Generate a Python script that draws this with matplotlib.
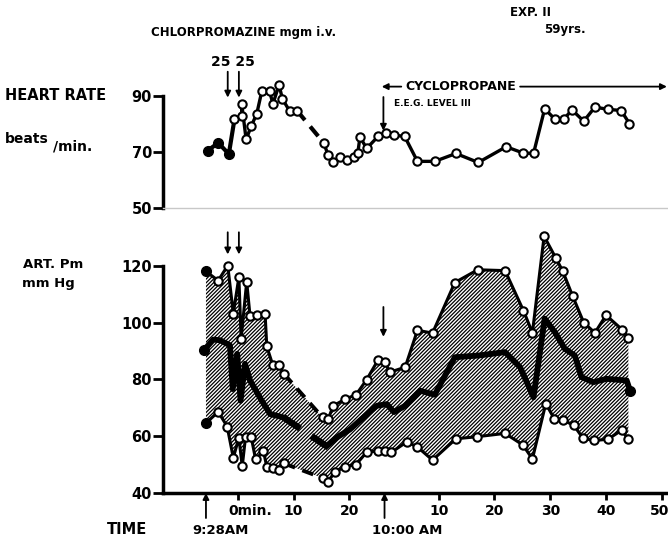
import matplotlib.pyplot as plt
from matplotlib.transforms import ScaledTranslation

plt.rcParams.update({'font.family': 'DejaVu Sans', 'font.weight': 'bold',
                     'hatch.linewidth': 0.9})

# time in minutes from the "0 min." mark (9:34 AM)
# heart rate, beats/min
hr_pre_t = [-5.4, -3.5, -1.6]
hr_pre = [70.4, 73.2, 69.2]
hr_a_t = [-0.6, 0.7, 0.7, 1.5, 2.4, 3.4, 4.3, 5.7, 6.3, 7.4, 8.0, 9.3, 10.6]
hr_a = [81.5, 82.9, 87.1, 74.4, 79.1, 83.5, 91.5, 91.5, 87.1, 93.8, 88.8, 84.5, 84.7]
hr_b_t = [15.4, 16.2, 17.1, 18.3, 19.6, 20.8, 21.5, 21.9, 23.1, 25.2, 26.6, 28.0, 29.9,
          32.2, 35.3, 39.1, 43.1, 48.1, 51.1, 53.0, 55.0, 56.9, 58.5, 59.9, 62.0, 64.0,
          66.4, 68.7, 70.2]
hr_b = [73.2, 68.8, 66.2, 68.0, 67.1, 68.0, 69.4, 75.3, 71.2, 75.6, 76.7, 75.9, 75.5,
        66.6, 66.6, 69.4, 66.2, 71.8, 69.6, 69.4, 85.3, 81.5, 81.8, 84.9, 80.9, 85.9,
        85.1, 84.7, 80.0]

# arterial pressure, mm Hg: upper, mean, lower
up_a_t = [-5.7, -3.5, -1.8, -0.8, 0.2, 0.6, 1.6, 2.2, 3.5, 4.9, 5.2, 6.3, 7.4, 8.3]
up_a = [118.0, 114.8, 120.1, 103.2, 116.0, 94.3, 114.4, 102.3, 102.6, 103.0, 91.6,
        84.9, 84.9, 81.9]
up_b_t = [15.2, 16.2, 17.1, 19.3, 21.2, 23.1, 25.1, 26.4, 27.2, 30.0, 32.2, 34.9, 38.9,
          43.0, 47.9, 51.2, 52.8, 54.9, 57.0, 58.2, 60.0, 62.0, 64.0, 66.0, 68.9, 70.0]
up_b = [66.6, 66.0, 70.7, 73.1, 74.6, 79.9, 86.7, 86.3, 82.5, 84.3, 97.3, 96.3, 114.1,
        118.6, 118.3, 104.2, 96.4, 130.4, 122.7, 118.3, 109.4, 100.0, 96.4, 102.6, 97.5,
        94.6]

lo_a_t = [-5.7, -3.5, -1.9, -0.8, 0.2, 0.8, 1.4, 2.4, 3.2, 4.6, 5.2, 6.4, 7.4, 8.3]
lo_a = [64.6, 68.6, 63.4, 52.4, 59.5, 49.4, 59.8, 59.8, 51.8, 54.8, 49.2, 48.8, 48.2, 50.4]
lo_b_t = [15.2, 16.1, 17.4, 19.2, 21.2, 23.1, 25.2, 26.3, 27.5, 30.3, 32.2, 34.9, 39.1,
          42.8, 47.9, 51.1, 52.8, 55.2, 56.7, 58.2, 60.2, 61.9, 63.9, 66.3, 68.8, 70.0]
lo_b = [45.3, 43.8, 47.4, 49.2, 50.0, 54.4, 54.8, 54.8, 54.3, 58.0, 56.2, 51.6, 59.1,
        59.8, 61.0, 56.9, 52.0, 71.5, 66.2, 65.7, 63.9, 59.2, 58.5, 58.9, 62.1, 58.9]

mn_a_t = [-6.0, -4.4, -3.2, -1.4, -0.9, -0.1, 0.5, 1.3, 2.2, 4.3, 5.8, 8.2]
mn_a = [90.4, 94.0, 93.8, 92.0, 76.6, 89.0, 72.5, 85.5, 79.6, 72.5, 67.8, 66.6]
mn_b_t = [15.9, 17.7, 20.1, 22.5, 24.9, 26.7, 28.0, 30.0, 32.7, 35.3, 38.9, 43.1, 47.9,
          50.6, 53.0, 55.0, 56.8, 58.6, 60.4, 61.6, 63.7, 66.1, 69.7, 70.3]
mn_b = [56.5, 59.5, 62.4, 66.6, 70.7, 71.3, 68.5, 70.7, 76.0, 74.6, 87.8, 88.4, 89.6,
        84.3, 73.7, 101.4, 96.7, 90.8, 88.4, 80.8, 79.0, 80.2, 79.6, 76.0]

tick_pos = [0, 10, 20, 36, 46, 56, 66, 76]
tick_lab = ['0min.', '10', '20', '10', '20', '30', '40', '50']
clock_t = [-5.7, 26.3]
dose_t = [-1.8, 0.2]
cyclo_t = 26.1

W, H = 668, 541
fig = plt.figure(figsize=(W / 100, H / 100), dpi=100)


def px(x, y):
    return x / W, 1 - y / H


def shift(label, dx):
    label.set_transform(label.get_transform() + ScaledTranslation(dx / 100, 0, fig.dpi_scale_trans))


ax1 = fig.add_axes([0.244, 0.6155, 0.756, 0.2805])
ax2 = fig.add_axes([0.244, 0.0887, 0.756, 0.4935])
for ax in (ax1, ax2):
    ax.set_xlim(-13.4, 77.1)
    ax.spines['top'].set_visible(False)
    ax.spines['right'].set_visible(False)
    ax.spines['left'].set_linewidth(2.5)
    ax.tick_params(axis='y', length=7, width=2, labelsize=10.5, pad=1)
    ax.patch.set_alpha(0)

# heart-rate panel
ax1.set_ylim(50, 104)
ax1.spines['left'].set_bounds(50, 90)
ax1.spines['bottom'].set_color('#c8c8c8')
ax1.spines['bottom'].set_linewidth(1)
ax1.set_yticks([50, 70, 90])
ax1.set_xticks([])

lw = 2.4
ax1.plot(hr_pre_t + hr_a_t[:1], hr_pre + hr_a[:1], color='k', lw=lw + 0.6, zorder=2)
ax1.plot(hr_a_t, hr_a, color='k', lw=lw, zorder=2)
ax1.plot([hr_a_t[-1], hr_b_t[0]], [hr_a[-1], hr_b[0]], color='k', lw=lw + 0.6,
         dashes=(3, 2), zorder=2)
ax1.plot(hr_b_t, hr_b, color='k', lw=lw, zorder=2)
ax1.plot(hr_pre_t, hr_pre, 'o', color='k', ms=7, zorder=3)
ax1.plot(hr_a_t + hr_b_t, hr_a + hr_b, 'o', mfc='white', mec='k', ms=6, mew=1.5, zorder=3)

arr = dict(arrowstyle='-|>', color='k', lw=1.3, mutation_scale=9, shrinkA=0, shrinkB=0)
for t in dose_t:
    ax1.annotate('', xy=(t, 89.3), xytext=(t, 98.5), arrowprops=arr, annotation_clip=False)
ax1.text(-0.8, 99.3, '25 25', ha='center', va='bottom', fontsize=10)
ax1.text(1.0, 110.0, 'CHLORPROMAZINE mgm i.v.', ha='center', va='bottom', fontsize=8.5)
ax1.annotate('', xy=(cyclo_t, 77.5), xytext=(cyclo_t, 89.5), arrowprops=arr,
             annotation_clip=False)
ax1.annotate('', xy=(25.8, 93.2), xytext=(29.3, 93.2), arrowprops=arr, annotation_clip=False)
ax1.text(30.0, 93.2, 'CYCLOPROPANE', ha='left', va='center', fontsize=9)
ax1.annotate('', xy=(76.9, 93.2), xytext=(50.6, 93.2), arrowprops=arr,
             annotation_clip=False)
ax1.text(28.0, 87.3, 'E.E.G. LEVEL III', ha='left', va='center', fontsize=6.5)

# arterial pressure panel
ax2.set_ylim(40, 134)
ax2.spines['left'].set_bounds(40, 120)
ax2.spines['bottom'].set_linewidth(2.5)
ax2.set_yticks([40, 60, 80, 100, 120])
ax2.set_xticks(tick_pos)
ax2.set_xticklabels(tick_lab, fontsize=10)
ax2.tick_params(axis='x', length=5, width=2, pad=3)
labels = ax2.get_xticklabels()
labels[0].set_ha('left')
shift(labels[0], -9)
labels[-1].set_ha('right')
shift(labels[-1], 7)

up_t, up_v = up_a_t + up_b_t, up_a + up_b
lo_t, lo_v = lo_a_t + lo_b_t, lo_a + lo_b
ax2.fill(up_t + lo_t[::-1], up_v + lo_v[::-1], facecolor='white', edgecolor='k',
         hatch='/' * 9, linewidth=0, zorder=1)

for ta, va, tb, vb, w in [(up_a_t, up_a, up_b_t, up_b, 2.2),
                          (lo_a_t, lo_a, lo_b_t, lo_b, 2.2),
                          (mn_a_t, mn_a, mn_b_t, mn_b, 4.2)]:
    ax2.plot(ta, va, color='k', lw=w, zorder=2)
    ax2.plot([ta[-1], tb[0]], [va[-1], vb[0]], color='k', lw=w + 0.6, dashes=(3, 2), zorder=2)
    ax2.plot(tb, vb, color='k', lw=w, zorder=2)
    ax2.plot([ta[0]], [va[0]], 'o', color='k', ms=7, zorder=3)
ax2.plot([mn_b_t[-1]], [mn_b[-1]], 'o', color='k', ms=7, zorder=3)
ax2.plot(up_t[1:] + lo_t[1:], up_v[1:] + lo_v[1:], 'o', mfc='white', mec='k', ms=6,
         mew=1.5, zorder=3)

for t in dose_t:
    ax2.annotate('', xy=(t, 124.0), xytext=(t, 131.8), arrowprops=arr, annotation_clip=False)
ax2.annotate('', xy=(cyclo_t, 95.0), xytext=(cyclo_t, 105.5), arrowprops=arr,
             annotation_clip=False)

# clock-time arrows under the axis
for t in clock_t:
    ax2.annotate('', xy=(t, 0), xycoords=('data', 'axes fraction'), xytext=(0, -18),
                 textcoords='offset points', arrowprops=arr, annotation_clip=False)

# figure labels
fig.text(*px(5, 95), 'HEART RATE', ha='left', va='center', fontsize=10.5)
fig.text(*px(5, 139), 'beats', ha='left', va='center', fontsize=10)
fig.text(*px(53, 147), '/min.', ha='left', va='center', fontsize=10)
fig.text(*px(23, 265), 'ART. Pm', ha='left', va='center', fontsize=9.5)
fig.text(*px(22, 284), 'mm Hg', ha='left', va='center', fontsize=9.5)
fig.text(*px(127, 530), 'TIME', ha='center', va='center', fontsize=10.5)
fig.text(*px(221, 531), '9:28AM', ha='center', va='center', fontsize=9.5)
fig.text(*px(407, 531), '10:00 AM', ha='center', va='center', fontsize=9.5)
fig.text(*px(531, 12), 'EXP. II', ha='center', va='center', fontsize=8.5)
fig.text(*px(565, 30), '59yrs.', ha='center', va='center', fontsize=8.5)

fig.savefig('out.png', dpi=100)
